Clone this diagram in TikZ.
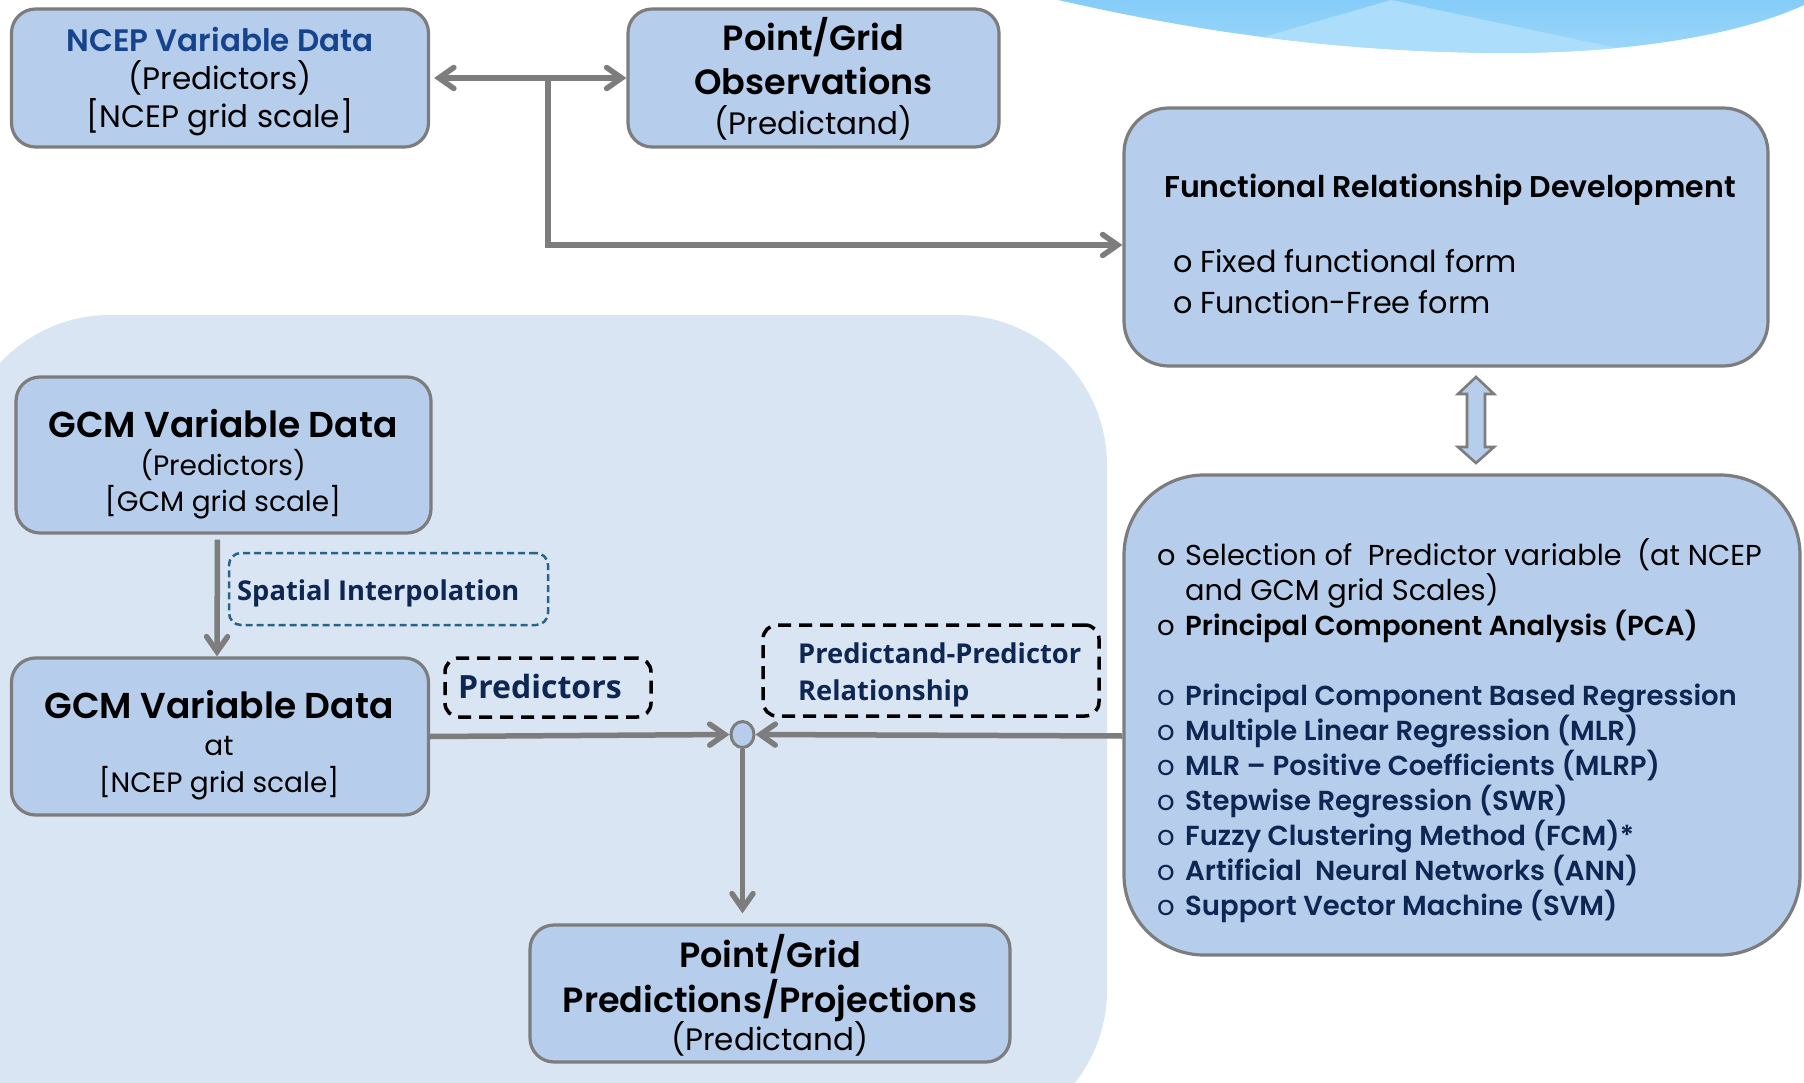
\documentclass[tikz,border=0pt]{standalone}
\usepackage{fontspec}
\setmainfont{Poppins}
\newfontfamily\semi{Poppins SemiBold}
\newfontfamily\lab{Open Sans}
\usetikzlibrary{arrows.meta,shapes.geometric}
\definecolor{boxfill}{RGB}{182,206,236}
\definecolor{boxline}{RGB}{125,125,125}
\definecolor{panel}{RGB}{218,229,244}
\definecolor{ncepblue}{RGB}{22,68,140}
\definecolor{navy}{RGB}{14,38,82}
\definecolor{tealdash}{RGB}{40,100,135}
\definecolor{waveA}{RGB}{132,204,249}
\definecolor{waveB}{RGB}{160,216,250}
\definecolor{waveL}{RGB}{172,222,251}
\newcommand{\fsz}[1]{\fontsize{#1}{#1}\selectfont}
\newcommand{\bul}[1]{\makebox[#1][l]{o}}
\tikzset{
  box/.style={draw=boxline, line width=3.2pt, fill=boxfill, rounded corners=#1, inner sep=0pt},
  box/.default=24pt,
  ln/.style={inner sep=0pt, anchor=base, font=\fsz{#1}},
  lw/.style={inner sep=0pt, anchor=base west, font=\fsz{#1}},
  barb/.tip={Straight Barb[length=15pt,width=21pt,line cap=round]},
  arr/.style={draw=boxline, line width=5.5pt, -barb},
  arrboth/.style={draw=boxline, line width=5.5pt, barb-barb},
  dashT/.style={draw=tealdash, line width=2.5pt, dash pattern=on 7pt off 4pt, rounded corners=12pt, inner sep=0pt},
  dashK/.style={draw=black, line width=3.5pt, dash pattern=on 13pt off 8pt, rounded corners=14pt, inner sep=0pt},
}
\begin{document}
\begin{tikzpicture}[x=1pt,y=-1pt]
\useasboundingbox (0,0) rectangle (1804,1083);
% background panel
\fill[panel, rounded corners=150pt] (-40,315) rectangle (1107,1140);
% wave decoration
\begin{scope}
\clip (1058,0) .. controls (1190,30) and (1330,52) .. (1503,53) .. controls (1650,53) and (1750,30) .. (1804,5) -- (1804,-2) -- (1058,-2) -- cycle;
\shade[top color=waveA, bottom color=waveB] (1050,-2) rectangle (1804,60);
\fill[waveL] (1150,70) -- (1391,0) -- (1720,70) -- cycle;
\end{scope}

% boxes
\node[box, minimum width=417pt, minimum height=138pt] (ncep) at (220,78) {};
\node[box, minimum width=371pt, minimum height=138pt] (obs) at (813.5,78) {};
\node[box=45pt, minimum width=644pt, minimum height=258pt] (func) at (1446,237) {};
\node[box=80pt, minimum width=676pt, minimum height=480pt] (methods) at (1462,715) {};
\node[box, minimum width=415pt, minimum height=156pt] (gcm1) at (223.5,455) {};
\node[box, minimum width=417pt, minimum height=157pt] (gcm2) at (220,736.5) {};
\node[box, minimum width=480pt, minimum height=137pt] (final) at (770,993.5) {};
\node[dashT, minimum width=319pt, minimum height=72pt] (spatial) at (388.5,589) {};
\node[dashK, minimum width=206pt, minimum height=59pt] (preds) at (548,687.5) {};
\node[dashK, minimum width=336pt, minimum height=91pt] (ppr) at (931,670.5) {};
\node[ellipse, draw=boxline, fill=boxfill, line width=3pt, minimum width=23pt, minimum height=26pt, inner sep=0pt] (junc) at (742.5,734.5) {};

% texts
\node[ln=31, text=ncepblue] (ncepA) at (220,52) {\semi NCEP Variable Data};
\node[ln=31] (ncepB) at (220,90) {(Predictors)};
\node[ln=31] (ncepC) at (220,128) {[NCEP grid scale]};

\node[ln=35] (obsA) at (813.5,51) {\semi Point/Grid};
\node[ln=35] (obsB) at (813.5,95) {\semi Observations};
\node[ln=31] (obsC) at (813.5,135) {(Predictand)};

\node[ln=36] (gcmA) at (223,437) {\semi GCM Variable Data};
\node[ln=28] (gcmB) at (223,475) {(Predictors)};
\node[ln=28] (gcmC) at (223,511) {[GCM grid scale]};

\node[ln=36] (gcmD) at (219,718) {\semi GCM Variable Data};
\node[ln=28] (gcmE) at (219,755) {at};
\node[ln=28] (gcmF) at (219,792) {[NCEP grid scale]};

\node[ln=35] (finA) at (770,967) {\semi Point/Grid};
\node[ln=35] (finB) at (770,1012) {\semi Predictions/Projections};
\node[ln=31] (finC) at (770,1050) {(Predictand)};

\node[lw=30] (funcA) at (1164,198) {\semi Functional Relationship Development};
\node[lw=30.3] (funcB) at (1173,273) {\bul{27pt}Fixed functional form};
\node[lw=30.3] (funcC) at (1173,313) {\bul{27pt}Function-Free form};

\node[lw=27.3, text=navy] (spA) at (237,600) {\lab\bfseries Spatial Interpolation};
\node[lw=32, text=navy] (prA) at (458,698) {\lab\bfseries Predictors};
\node[lw=27.3, text=navy] (ppA) at (798,663) {\lab\bfseries Predictand-Predictor};
\node[lw=27.3, text=navy] (ppB) at (798,700) {\lab\bfseries Relationship};

\node[lw=28.8] (m1) at (1157,565) {\bul{28pt}Selection of\ \ Predictor variable\ \ (at NCEP};
\node[lw=28.8] (m1b) at (1185,600) {and GCM grid Scales)};
\node[lw=27.5] (m2) at (1157,635) {\bul{28pt}\semi Principal Component Analysis (PCA)};
\node[lw=27.5, text=navy] (m3) at (1157,705) {\bul{28pt}\semi Principal Component Based Regression};
\node[lw=27.5, text=navy] (m4) at (1157,740) {\bul{28pt}\semi Multiple Linear Regression (MLR)};
\node[lw=27.5, text=navy] (m5) at (1157,775) {\bul{28pt}\semi MLR – Positive Coefficients (MLRP)};
\node[lw=27.5, text=navy] (m6) at (1157,810) {\bul{28pt}\semi Stepwise Regression (SWR)};
\node[lw=27.5, text=navy] (m7) at (1157,845) {\bul{28pt}\semi Fuzzy Clustering Method (FCM)*};
\node[lw=27.5, text=navy] (m8) at (1157,880) {\bul{28pt}\semi Artificial\ \ Neural Networks (ANN)};
\node[lw=27.5, text=navy] (m9) at (1157,915) {\bul{28pt}\semi Support Vector Machine (SVM)};

% connectors
\coordinate (j1) at (548,78);
\coordinate (j2) at (548,245);
\draw[arrboth, shorten <=4pt] (ncep.east) -- (obs.west);
\draw[arr] (j1) -- (j2) -- (j2 -| func.west);
\draw[arr, shorten <=5pt] ([xshift=-6pt]gcm1.south) -- ([xshift=-3pt]gcm2.north);
\draw[arr] (gcm2.east) -- (junc.west);
\draw[arr] ([yshift=-21pt]methods.west) -- (junc.east);
\draw[arr, shorten >=10pt] (junc.south) -- (junc.south |- final.north);
% double block arrow
\draw[draw=boxline, fill=boxfill, line width=2.6pt, line join=miter]
  (1476,377) -- (1494,394) -- (1485,394) -- (1485,447) -- (1494,447) -- (1476,463)
  -- (1458,447) -- (1467,447) -- (1467,394) -- (1458,394) -- cycle;
\end{tikzpicture}
\end{document}
